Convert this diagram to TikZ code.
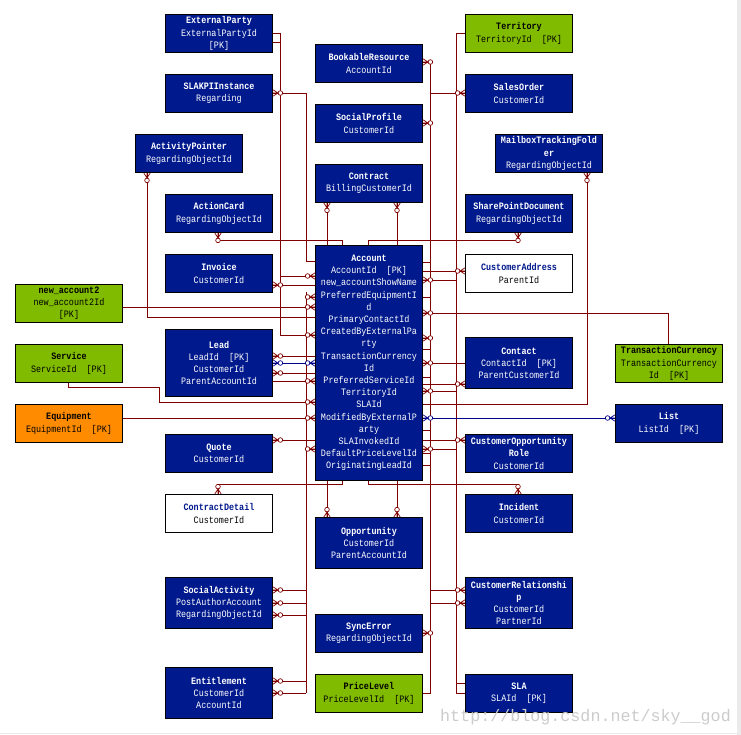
\documentclass[tikz,border=0pt]{standalone}
\usepackage{fontspec}
\newfontfamily\efont[FakeStretch=0.86]{Liberation Mono}
\newfontfamily\wfont{Liberation Mono}
\definecolor{eblue}{RGB}{0,25,140}
\definecolor{egreen}{RGB}{128,187,0}
\definecolor{eorange}{RGB}{255,140,0}
\definecolor{lred}{RGB}{128,0,0}
\definecolor{lblue}{RGB}{0,0,140}
\newcommand\tb[1]{\textbf{#1}}
\begin{document}
\begin{tikzpicture}[x=1pt,y=-1pt,
  ent/.style={draw=black,line width=1pt,anchor=north west,inner sep=0pt,align=center,
    font=\efont\fontsize{9.8}{12.2}\selectfont,fill=eblue,text=white},
  grn/.style={fill=egreen,text=black},
  org/.style={fill=eorange,text=black},
  wht/.style={fill=white,text=black},
  conn/.style={draw=lred,line width=0.8pt},
  mk/.pic={\draw[line width=0.7pt] (0,-3.2) -- (5,0) -- (0,3.2) (0,0) -- (5,0);
           \draw[line width=0.7pt,fill=white] (7.4,0) circle (2.3);}
]
\useasboundingbox (0,0) rectangle (741,735);
\fill[white] (0,0) rectangle (741,735);
\fill[black!8] (737,0) rectangle (741,735);
\draw[black!8] (0,733.5) -- (737,733.5);

% ---------- entities ----------
\node[ent,minimum width=107,minimum height=38] (ep) at (165,14) {\tb{ExternalParty}\\ExternalPartyId\\{[PK]}};
\node[ent,minimum width=107,minimum height=38] (slakpi) at (165,74) {\tb{SLAKPIInstance}\\Regarding};
\node[ent,minimum width=107,minimum height=38] (ap) at (135,134) {\tb{ActivityPointer}\\RegardingObjectId};
\node[ent,minimum width=107,minimum height=38] (ac) at (165,194) {\tb{ActionCard}\\RegardingObjectId};
\node[ent,minimum width=107,minimum height=38] (inv) at (165,254) {\tb{Invoice}\\CustomerId};
\node[ent,grn,minimum width=107,minimum height=38] (na2) at (15,284) {\tb{new\_account2}\\new\_account2Id\\{[PK]}};
\node[ent,minimum width=107,minimum height=67] (lead) at (165,329) {\tb{Lead}\\LeadId~~[PK]\\CustomerId\\ParentAccountId};
\node[ent,grn,minimum width=107,minimum height=38] (svc) at (15,344) {\tb{Service}\\ServiceId~~[PK]};
\node[ent,org,minimum width=107,minimum height=38] (eq) at (15,404) {\tb{Equipment}\\EquipmentId~~[PK]};
\node[ent,minimum width=107,minimum height=38] (qt) at (165,434) {\tb{Quote}\\CustomerId};
\node[ent,wht,minimum width=107,minimum height=38] (cd) at (165,494) {\textcolor{eblue}{\tb{ContractDetail}}\\CustomerId};
\node[ent,minimum width=107,minimum height=51] (sa) at (165,577) {\tb{SocialActivity}\\PostAuthorAccount\\RegardingObjectId};
\node[ent,minimum width=107,minimum height=51] (ent) at (165,667) {\tb{Entitlement}\\CustomerId\\AccountId};

\node[ent,minimum width=107,minimum height=38] (br) at (315,44) {\tb{BookableResource}\\AccountId};
\node[ent,minimum width=107,minimum height=38] (spf) at (315,104) {\tb{SocialProfile}\\CustomerId};
\node[ent,minimum width=107,minimum height=38] (con) at (315,164) {\tb{Contract}\\BillingCustomerId};
\node[ent,minimum width=107,minimum height=235] (acc) at (315,245) {\tb{Account}\\AccountId~~[PK]\\new\_accountShowName\\PreferredEquipmentI\\d\\PrimaryContactId\\CreatedByExternalPa\\rty\\TransactionCurrency\\Id\\PreferredServiceId\\TerritoryId\\SLAId\\ModifiedByExternalP\\arty\\SLAInvokedId\\DefaultPriceLevelId\\OriginatingLeadId};
\node[ent,minimum width=107,minimum height=51] (opp) at (315,517) {\tb{Opportunity}\\CustomerId\\ParentAccountId};
\node[ent,minimum width=107,minimum height=38] (se) at (315,614) {\tb{SyncError}\\RegardingObjectId};
\node[ent,grn,minimum width=107,minimum height=38] (pl) at (315,674) {\tb{PriceLevel}\\PriceLevelId~~[PK]};

\node[ent,grn,minimum width=107,minimum height=38] (ter) at (465,14) {\tb{Territory}\\TerritoryId~~[PK]};
\node[ent,minimum width=107,minimum height=38] (so) at (465,74) {\tb{SalesOrder}\\CustomerId};
\node[ent,minimum width=107,minimum height=38] (mb) at (495,134) {\tb{MailboxTrackingFold}\\\tb{er}\\RegardingObjectId};
\node[ent,minimum width=107,minimum height=38] (spd) at (465,194) {\tb{SharePointDocument}\\RegardingObjectId};
\node[ent,wht,minimum width=107,minimum height=38] (ca) at (465,254) {\textcolor{eblue}{\tb{CustomerAddress}}\\ParentId};
\node[ent,minimum width=107,minimum height=51] (ct) at (465,337) {\tb{Contact}\\ContactId~~[PK]\\ParentCustomerId};
\node[ent,minimum width=107,minimum height=38] (cor) at (465,434) {\tb{CustomerOpportunity}\\\tb{Role}\\CustomerId};
\node[ent,minimum width=107,minimum height=38] (inc) at (465,494) {\tb{Incident}\\CustomerId};
\node[ent,minimum width=107,minimum height=51] (cr) at (465,577) {\tb{CustomerRelationshi}\\\tb{p}\\CustomerId\\PartnerId};
\node[ent,minimum width=107,minimum height=38] (sla) at (465,674) {\tb{SLA}\\SLAId~~[PK]};
\node[ent,grn,minimum width=107,minimum height=38] (tc) at (615,344) {\tb{TransactionCurrency}\\TransactionCurrency\\Id~~[PK]};
\node[ent,minimum width=107,minimum height=38] (list) at (615,404) {\tb{List}\\ListId~~[PK]};

% ---------- connectors ----------
\begin{scope}[conn]
% left side
\draw (ep.east|-0,33) -| (280,276) -- (acc.west|-0,276);
\draw (ep.east|-0,42) -| (280,335) -- (acc.west|-0,335);
\draw (slakpi.east|-0,93) -| (306,261) -- (acc.west|-0,261);
\draw (ap.south-|147,0) |- (acc.west|-0,317);
\draw (na2.east|-0,307) -- (acc.west|-0,307);
\draw (inv.east|-0,285) -- (acc.west|-0,285);
\draw (ac.south-|218,0) |- (342,240) -- (acc.north-|342,0);
\draw (lead.east|-0,356) -- (acc.west|-0,356);
\draw (lead.east|-0,373) -- (acc.west|-0,373);
\draw (lead.east|-0,381) -- (acc.west|-0,381);
\draw (svc.south-|68,0) -- (68,387) -| (159,402) -- (acc.west|-0,402);
\draw (eq.east|-0,418) -- (acc.west|-0,418);
\draw (qt.east|-0,440) -- (acc.west|-0,440);
\draw (cd.north-|218,0) |- (342,484) -- (acc.south-|342,0);
\draw (306,292) -- (306,693);
\draw (306,297) -- (acc.west|-0,297);
\draw (306,449) -- (acc.west|-0,449);
\draw (sa.east|-0,590) -- (306,590);
\draw (sa.east|-0,603) -- (306,603);
\draw (sa.east|-0,615) -- (306,615);
\draw (ent.east|-0,681) -- (306,681);
\draw (ent.east|-0,693) -- (306,693);
% top and bottom of Account
\draw (con.south-|327,0) -- (acc.north-|327,0);
\draw (con.south-|397,0) -- (acc.north-|397,0);
\draw (opp.north-|327,0) -- (acc.south-|327,0);
\draw (opp.north-|397,0) -- (acc.south-|397,0);
\draw (spd.south-|518,0) |- (368,240) -- (acc.north-|368,0);
\draw (inc.north-|518,0) |- (368,484) -- (acc.south-|368,0);
% right side
\draw (br.east|-0,62) -| (430,693) -- (pl.east|-0,693);
\draw (430,262) -- (acc.east|-0,262);
\draw (so.west|-0,93) -- (430,93);
\draw (spf.east|-0,123) -- (430,123);
\draw (ter.west|-0,33) -| (456,693) -- (sla.west|-0,693);
\draw (456,683) -- (sla.west|-0,683);
\draw (456,391) -- (acc.east|-0,391);
\draw (456,449) -- (acc.east|-0,449);
\draw (ca.west|-0,271) -- (acc.east|-0,271);
\draw (acc.east|-0,280) -- (456,280);
\draw (tc.north-|668,0) |- (acc.east|-0,313);
\draw (acc.east|-0,297) -- (430,297);
\draw (acc.east|-0,338) -- (430,338);
\draw (acc.east|-0,349) -- (430,349);
\draw (ct.west|-0,363) -- (acc.east|-0,363);
\draw (acc.east|-0,377) -- (430,377);
\draw (ct.west|-0,384) -- (acc.east|-0,384);
\draw (mb.south-|587,0) |- (acc.east|-0,404);
\draw (acc.east|-0,430) -- (430,430);
\draw (cor.west|-0,440) -- (acc.east|-0,440);
\draw (acc.east|-0,453) -- (430,453);
\draw (acc.east|-0,465) -- (430,465);
\draw (se.east|-0,633) -- (430,633);
\draw (cr.west|-0,590) -- (430,590);
\draw (cr.west|-0,603) -- (430,603);
\draw[lblue] (lead.east|-0,363) -- (acc.west|-0,363);
\draw[lblue] (list.west|-0,418) -- (acc.east|-0,418);
\end{scope}

% ---------- end marks ----------
\begin{scope}[lred]
\foreach \y in {276,297,307,335,381,402,418,449} {\pic[rotate=180] at (acc.west|-0,\y) {mk};}
\foreach \y in {280,313,338,363,391,449} {\pic at (acc.east|-0,\y) {mk};}
\pic at (slakpi.east|-0,93) {mk};
\pic at (inv.east|-0,285) {mk};
\pic at (lead.east|-0,356) {mk};
\pic at (lead.east|-0,373) {mk};
\pic at (qt.east|-0,440) {mk};
\foreach \y in {590,603,615} {\pic at (sa.east|-0,\y) {mk};}
\foreach \y in {681,693} {\pic at (ent.east|-0,\y) {mk};}
\pic[rotate=-90] at (ap.south-|147,0) {mk};
\pic[rotate=-90] at (ac.south-|218,0) {mk};
\pic[rotate=90] at (cd.north-|218,0) {mk};
\pic at (br.east|-0,62) {mk};
\pic at (spf.east|-0,123) {mk};
\pic at (se.east|-0,633) {mk};
\pic[rotate=180] at (so.west|-0,93) {mk};
\pic[rotate=180] at (ca.west|-0,271) {mk};
\pic[rotate=180] at (ct.west|-0,384) {mk};
\pic[rotate=180] at (cor.west|-0,440) {mk};
\pic[rotate=180] at (cr.west|-0,590) {mk};
\pic[rotate=180] at (cr.west|-0,603) {mk};
\pic[rotate=-90] at (spd.south-|518,0) {mk};
\pic[rotate=-90] at (mb.south-|587,0) {mk};
\pic[rotate=90] at (inc.north-|518,0) {mk};
\pic[rotate=90] at (opp.north-|327,0) {mk};
\pic[rotate=90] at (opp.north-|397,0) {mk};
\pic[rotate=-90] at (con.south-|327,0) {mk};
\pic[rotate=-90] at (con.south-|397,0) {mk};
\end{scope}
\begin{scope}[lblue]
\pic at (lead.east|-0,363) {mk};
\pic[rotate=180] at (acc.west|-0,363) {mk};
\pic at (acc.east|-0,418) {mk};
\pic[rotate=180] at (list.west|-0,418) {mk};
\end{scope}

% ---------- watermark ----------
\node[anchor=base west,inner sep=0pt,text=black!20,font=\wfont\fontsize{16.7}{16.7}\selectfont] (wm) at (440,721) {http://blog.csdn.net/sky\_\_god};
\end{tikzpicture}
\end{document}
